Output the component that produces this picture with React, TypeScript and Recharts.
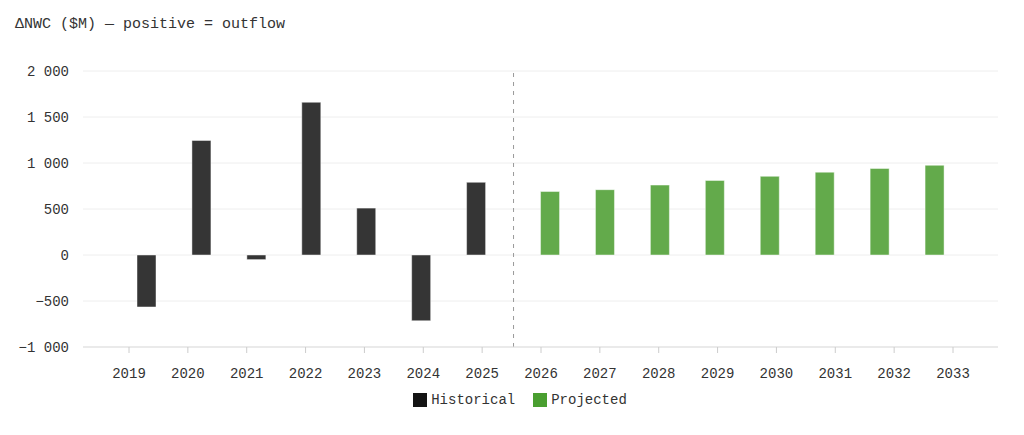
import React from 'react';
import { BarChart, Bar, XAxis, YAxis, CartesianGrid, ReferenceLine, Legend } from 'recharts';

// values in $M
const years = ['2019', '2020', '2021', '2022', '2023', '2024', '2025', '2026', '2027', '2028', '2029', '2030', '2031', '2032', '2033'];
const historical = [-565, 1245, -50, 1660, 510, -715, 790, null, null, null, null, null, null, null, null];
const projected = [null, null, null, null, null, null, null, 690, 710, 760, 810, 855, 900, 940, 975];
const yTicks = [-1000, -500, 0, 500, 1000, 1500, 2000];
const lastHistoricalYear = '2025';

const FONT = '"Liberation Mono", monospace';
const HIST = '#353535';
const PROJ = '#63aa4b';

const data = years.map((year, i) => ({ year, historical: historical[i], projected: projected[i] }));

const fmt = (v: number) => {
  const s = Math.abs(v).toString().replace(/\B(?=(\d{3})+(?!\d))/g, ' ');
  return v < 0 ? '\u2212' + s : s;
};

const legendItems = [
  { label: 'Historical', color: '#141414' },
  { label: 'Projected', color: '#4a9f30' },
];

const LegendContent = () => (
  <div style={{ display: 'flex', justifyContent: 'center', alignItems: 'center', height: 20, fontFamily: FONT, fontSize: 14, color: '#333' }}>
    {legendItems.map((it, i) => (
      <div key={it.label} style={{ display: 'flex', alignItems: 'center', marginLeft: i ? 18 : 0 }}>
        <span style={{ width: 14, height: 14, background: it.color, marginRight: 4, display: 'inline-block' }} />
        <span>{it.label}</span>
      </div>
    ))}
  </div>
);

export default function App() {
  return (
    <div style={{ position: 'absolute', left: 0, top: 0, width: 1024, height: 435, background: '#fff' }}>
      <div style={{ position: 'absolute', left: 15, top: 16, fontFamily: FONT, fontSize: 15, lineHeight: '18px', color: '#333', whiteSpace: 'pre' }}>
        ΔNWC ($M) — positive = outflow
      </div>
      <BarChart width={1024} height={435} data={data} margin={{ top: 71, right: 26, left: 0, bottom: 38 }} barGap={0}>
        <CartesianGrid xAxisId="bar" vertical={false} stroke="#eeeeee" />
        {/* bars sit on a band axis, labels on a point axis spanning the same range */}
        <XAxis xAxisId="bar" dataKey="year" height={0} tick={false} tickLine={false} axisLine={false} padding={{ left: 46, right: 45 }} />
        <XAxis
          xAxisId="lbl"
          dataKey="year"
          scale="point"
          padding={{ left: 46, right: 45 }}
          interval={0}
          tickMargin={15}
          tick={{ fill: '#333', fontSize: 14, fontFamily: FONT }}
          tickLine={{ stroke: '#cccccc' }}
          axisLine={{ stroke: '#dddddd' }}
        />
        <YAxis
          domain={[-1000, 2000]}
          ticks={yTicks}
          width={83}
          axisLine={false}
          tickLine={false}
          tickMargin={8}
          tickFormatter={fmt}
          tick={{ fill: '#333', fontSize: 14, fontFamily: FONT }}
        />
        <ReferenceLine xAxisId="bar" x={lastHistoricalYear} position="end" stroke="#999" strokeDasharray="4 5" />
        <Bar xAxisId="bar" dataKey="historical" name="Historical" fill={HIST} stroke="#fff" strokeOpacity={0.45} barSize={19} isAnimationActive={false} />
        <Bar xAxisId="bar" dataKey="projected" name="Projected" fill={PROJ} stroke="#fff" strokeOpacity={0.45} barSize={19} isAnimationActive={false} />
        <Legend content={<LegendContent />} wrapperStyle={{ top: 390, left: 8, width: 1024 }} />
      </BarChart>
    </div>
  );
}
